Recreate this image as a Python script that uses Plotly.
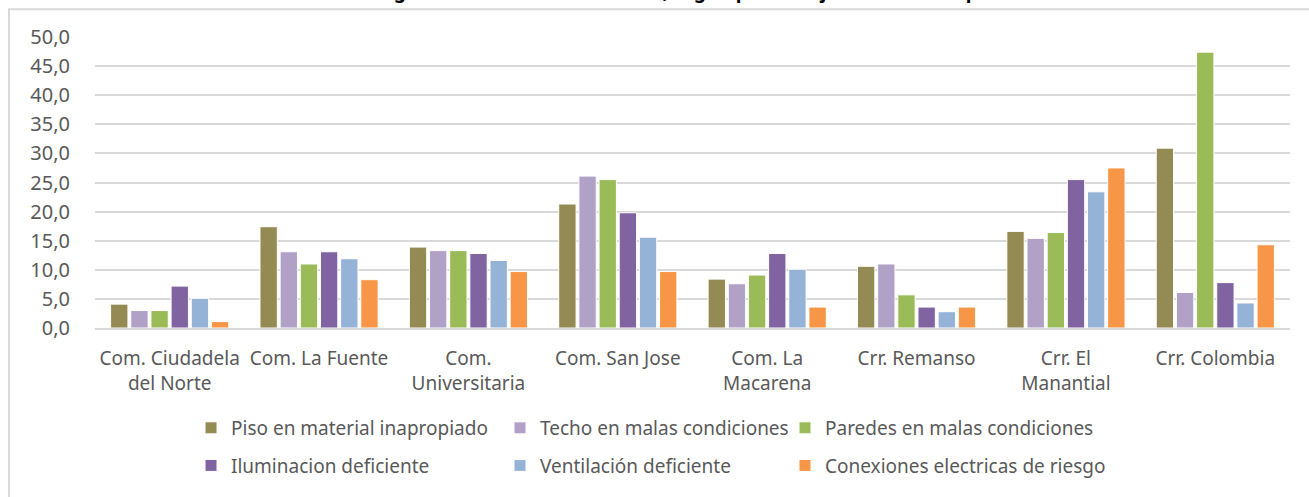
import plotly.graph_objects as go

# data
sectores = ["Com. Ciudadela<br>del Norte", "Com. La Fuente", "Com.<br>Universitaria",
            "Com. San Jose", "Com. La<br>Macarena", "Crr. Remanso",
            "Crr. El<br>Manantial", "Crr. Colombia"]

piso = [4.1, 17.4, 13.9, 21.3, 8.4, 10.6, 16.6, 30.9]
techo = [3.0, 13.1, 13.3, 26.1, 7.6, 11.0, 15.4, 6.1]
paredes = [3.0, 11.0, 13.3, 25.5, 9.1, 5.7, 16.4, 47.4]
iluminacion = [7.2, 13.1, 12.8, 19.8, 12.8, 3.6, 25.5, 7.8]
ventilacion = [5.1, 11.9, 11.6, 15.6, 10.1, 2.8, 23.4, 4.3]
conexiones = [1.1, 8.3, 9.7, 9.7, 3.6, 3.6, 27.5, 14.3]

series = [
    ("Piso en material inapropiado", piso, "#948A54"),
    ("Techo en malas condiciones", techo, "#B2A1C7"),
    ("Paredes en malas condiciones", paredes, "#9BBB59"),
    ("Iluminacion deficiente", iluminacion, "#8064A2"),
    ("Ventilación deficiente", ventilacion, "#95B3D7"),
    ("Conexiones electricas de riesgo", conexiones, "#F79646"),
]

titulo = "Distribución de riesgos en condición estructural, según porcentaje de viviendas por sector"

FONT = "Noto Sans"
W, H = 1309, 497
ML, MT = 95, 37
MR = W - 1290
MB = H - 331
pw, ph = W - ML - MR, H - MT - MB


# page pixel -> paper coords
def px(x):
    return (x - ML) / pw


def py(y):
    return (H - MB - y) / ph


fig = go.Figure()

# legend spots (3 columns x 2 rows, like the excel legend)
leg_x = [191, 500, 785]
leg_y = [432, 470]

for i, (name, vals, col) in enumerate(series):
    key = "legend" if i == 0 else "legend%d" % (i + 1)
    fig.add_trace(go.Bar(x=sectores, y=vals, name=name,
                         marker=dict(color=col, line=dict(color="white", width=1)),
                         legend=key))
    fig.update_layout({key: dict(x=px(leg_x[i % 3]), y=py(leg_y[i // 3]),
                                 xanchor="left", yanchor="middle",
                                 bgcolor="rgba(0,0,0,0)",
                                 font=dict(family=FONT, size=19, color="#595959"))})

fig.update_layout(
    width=W, height=H,
    margin=dict(l=ML, r=MR, t=MT, b=MB),
    paper_bgcolor="white", plot_bgcolor="white",
    barmode="group", bargap=0.19, bargroupgap=0.14,
    separators=",.",
    showlegend=True,
    font=dict(family=FONT, color="#595959"),
)

fig.update_yaxes(range=[0, 50], dtick=5, tickformat=".1f",
                 showgrid=True, gridcolor="#D9D9D9", gridwidth=2,
                 zeroline=False, showline=False,
                 ticks="outside", ticklen=20, tickcolor="rgba(0,0,0,0)",
                 tickfont=dict(family=FONT, size=20, color="#595959"))
fig.update_xaxes(showline=True, linecolor="#D9D9D9", linewidth=2,
                 ticks="outside", ticklen=12, tickcolor="rgba(0,0,0,0)",
                 tickfont=dict(family=FONT, size=19, color="#595959"))

# chart frame, runs past the right and bottom of the picture
fig.add_shape(type="rect", xref="paper", yref="paper",
              x0=px(9), x1=px(1340), y0=py(540), y1=py(9),
              line=dict(color="#D9D9D9", width=2), layer="below")

# title sits above the frame, mostly cut off at the top edge
fig.add_annotation(text="<b>" + titulo + "</b>", xref="paper", yref="paper",
                   x=px(636), y=py(6), xanchor="center", yanchor="bottom",
                   showarrow=False, font=dict(family=FONT, size=19, color="black"))

# drop the default page margin so the figure sits at the top-left corner
fig.write_html("out.html", config={"displayModeBar": False},
               post_script="document.body.style.margin='0';document.body.style.overflow='hidden';")
